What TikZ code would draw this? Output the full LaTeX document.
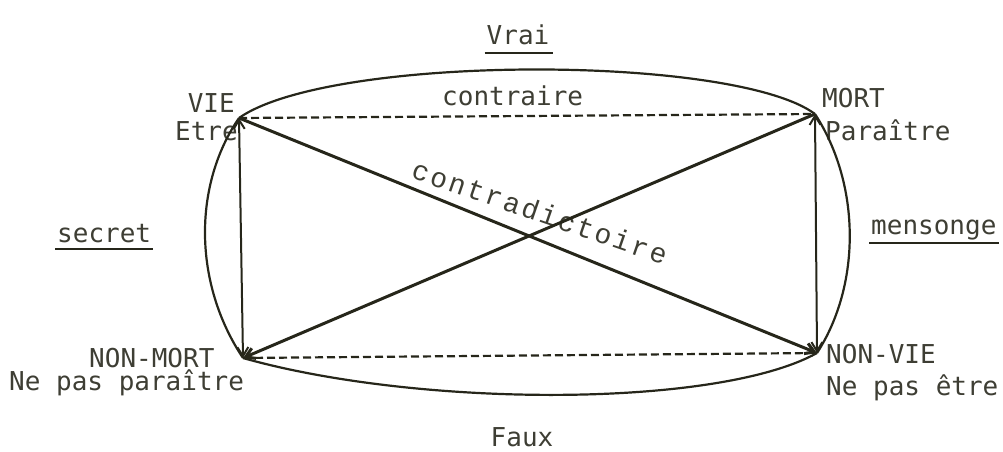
\documentclass[tikz,border=0pt]{standalone}
\usepackage{fontspec}
\newfontfamily\typefont{DejaVu Sans Mono}
\newfontfamily\courierfont[LetterSpace=9]{Liberation Mono}
\usetikzlibrary{arrows.meta,calc}
\definecolor{ink}{RGB}{38,38,26}
\definecolor{typeink}{RGB}{62,62,52}

\begin{document}
\begin{tikzpicture}[x=1pt,y=-1pt,
  >={Straight Barb[length=9pt,width=11pt]},
  lbl/.style={inner sep=0pt, text=typeink, font=\typefont\fontsize{26}{30}\selectfont},
  sideline/.style={draw=ink, line width=2pt},
  diag/.style={draw=ink, line width=3pt},
  contra/.style={draw=ink, line width=2.2pt, dash pattern=on 8pt off 4pt},
  bow/.style={draw=ink, line width=2.2pt},
  underrule/.style={draw=ink, line width=2pt}
]
\useasboundingbox (0,0) rectangle (1003,452);

% corners of the square
\coordinate (vie) at (239,118);
\coordinate (mort) at (815,114);
\coordinate (nonmort) at (243,358);
\coordinate (nonvie) at (817,353);

% corner labels
\node[lbl, anchor=base east] (lvie) at (235,112) {VIE};
\node[lbl, anchor=base east] (letre) at (238,140) {Etre};
\node[lbl, anchor=base west] (lmort) at (822,107) {MORT};
\node[lbl, anchor=base west] (lparaitre) at (825,140) {Paraître};
\node[lbl, anchor=base west] (lnonmort) at (89,367) {NON-MORT};
\node[lbl, anchor=base west] (lnepasparaitre) at (9,390) {Ne pas paraître};
\node[lbl, anchor=base west] (lnonvie) at (826,363) {NON-VIE};
\node[lbl, anchor=base west] (lnepasetre) at (826,395) {Ne pas être};

% relation labels
\node[lbl, anchor=base] (lvrai) at (518,45) {Vrai};
\node[lbl, anchor=base] (lfaux) at (522,446) {Faux};
\node[lbl, anchor=base west] (lcontraire) at (442,105) {contraire};
\node[lbl, anchor=base west] (lsecret) at (57,242) {secret};
\node[lbl, anchor=base west] (lmensonge) at (871,234) {mensonge};
\node[inner sep=0pt, text=typeink, font=\courierfont\fontsize{28}{30}\selectfont,
      rotate=-19] (lcontradictoire) at (540,212) {contradictoire};

% underlines
\draw[underrule] ($(lvrai.base west)+(-2,8)$) -- ($(lvrai.base east)+(3,8)$);
\draw[underrule] ($(lsecret.base west)+(-2,7)$) -- ($(lsecret.base east)+(2,7)$);
\draw[underrule] ($(lmensonge.base west)+(-2,9)$) -- ($(lmensonge.base east)+(2,9)$);

% sides of the square
\draw[sideline, <->] (vie) -- (nonmort);
\draw[sideline, <->] (mort) -- (nonvie);
\draw[contra] (vie) -- (mort);
\draw[contra] (nonmort) -- (nonvie);

% diagonals
\draw[diag, ->] (vie) -- (nonvie);
\draw[diag, ->] (mort) -- (nonmort);

% enclosing arcs
\draw[bow] (vie) .. controls (330,54) and (734,54) .. (mort);
\draw[bow] (nonmort) .. controls (420,408) and (718,408) .. (nonvie);
\draw[bow] (vie) .. controls (193,185) and (193,283) .. (nonmort);
\draw[bow] (mort) .. controls (861,185) and (861,285) .. (nonvie);
\end{tikzpicture}
\end{document}
